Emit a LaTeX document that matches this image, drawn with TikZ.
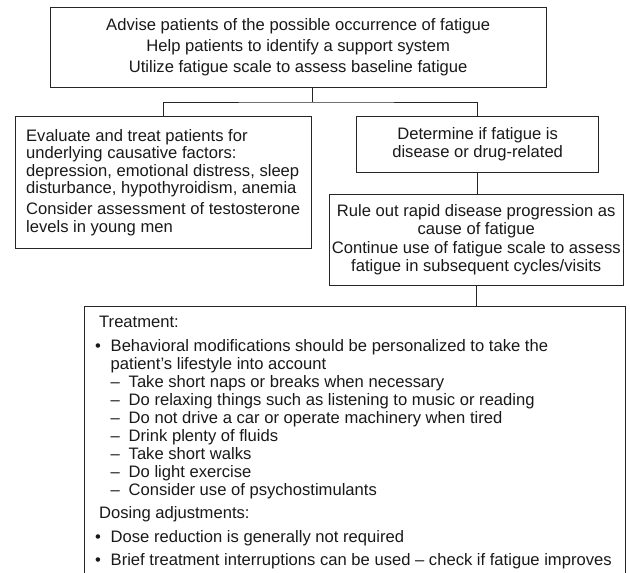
\documentclass[tikz,border=0pt]{standalone}
\usepackage{fontspec}
\setmainfont{Liberation Sans}
\newcommand{\bulitem}{\makebox[11.5pt][l]{\hspace*{-4pt}•}}
\newcommand{\indit}{\hspace*{11.5pt}}
\newcommand{\dashit}{\hspace*{11.5pt}\makebox[18pt][l]{–}}
\begin{document}
\begin{tikzpicture}[x=1pt,y=-1pt,
  box/.style={draw=black!85, line width=0.9pt, inner sep=0pt, text=black!90},
  txt/.style={inner sep=0pt, text=black!90},
  conn/.style={draw=black!85, line width=0.9pt}]
\useasboundingbox (0,0) rectangle (630,573);
\clip (0,0) rectangle (630,573);

\node[box, minimum width=495.7pt, minimum height=80.5pt, align=center,
  font=\fontsize{16.6}{21}\selectfont] (top) at (298.15,47.25)
  {Advise patients of the possible occurrence of fatigue\\
   Help patients to identify a support system\\
   Utilize fatigue scale to assess baseline fatigue};

\node[box, minimum width=295.7pt, minimum height=131.8pt, align=left,
  font=\fontsize{16.6}{17.5}\selectfont] (left) at (163.15,182.6)
  {Evaluate and treat patients for\\
   underlying causative factors:\\
   depression, emotional distress, sleep\\
   disturbance, hypothyroidism, anemia\\[3.5pt]
   Consider assessment of testosterone\\
   levels in young men};

\node[box, minimum width=241.9pt, minimum height=56pt, align=center,
  font=\fontsize{16.6}{18}\selectfont] (r1) at (477.65,144.7)
  {Determine if fatigue is\\
   disease or drug-related};

\node[box, minimum width=294.5pt, minimum height=91pt, align=center,
  font=\fontsize{16.6}{18}\selectfont] (r2) at (476.25,239.5)
  {Rule out rapid disease progression as\\
   cause of fatigue\\[1.5pt]
   Continue use of fatigue scale to assess\\
   fatigue in subsequent cycles/visits};

\node[box, minimum width=541.3pt, minimum height=294pt] (bot) at (354.65,453) {};

\node[txt, anchor=north west, align=left,
  font=\fontsize{16.6}{18}\selectfont] (bottxt) at (99,316.1)
  {Treatment:\\[5.5pt]
   \bulitem Behavioral modifications should be personalized to take the\\
   \indit patient’s lifestyle into account\\
   \dashit Take short naps or breaks when necessary\\
   \dashit Do relaxing things such as listening to music or reading\\
   \dashit Do not drive a car or operate machinery when tired\\
   \dashit Drink plenty of fluids\\
   \dashit Take short walks\\
   \dashit Do light exercise\\
   \dashit Consider use of psychostimulants\\[5.5pt]
   Dosing adjustments:\\[5.5pt]
   \bulitem Dose reduction is generally not required\\[5.5pt]
   \bulitem Brief treatment interruptions can be used – check if fatigue improves};

\coordinate (j) at (312.3,102);
\draw[conn] (top.south -| j) -- (j);
\draw[conn] (left.north) |- (j) -- (r1.north |- j) -- (r1.north);
\draw[conn] (r1.south) -- (r1.south |- r2.north);
\draw[conn] (r2.south) -- (r2.south |- bot.north);
\end{tikzpicture}
\end{document}
